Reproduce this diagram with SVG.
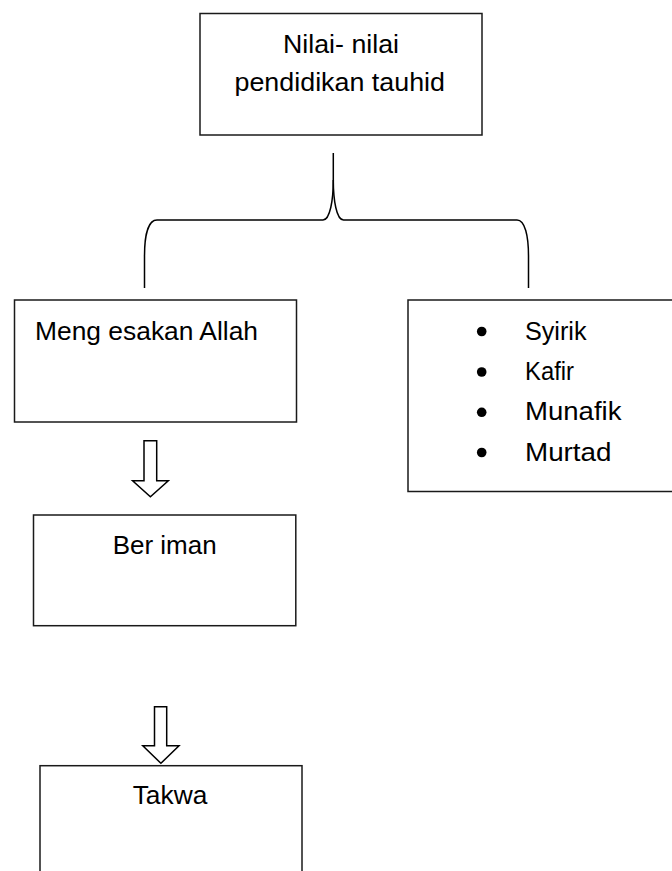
<svg xmlns="http://www.w3.org/2000/svg" width="672" height="871" viewBox="0 0 672 871">
<style>
.box{fill:#fff;stroke:#1a1a1a;stroke-width:1.5}
.ln{fill:none;stroke:#000;stroke-width:1.5}
.arr{fill:#fff;stroke:#000;stroke-width:1.5;stroke-linejoin:miter}
text{font-family:"Liberation Sans","Open Sans",Arial,sans-serif;font-size:26px;fill:#000}
.dot{fill:#000}
</style>
<rect width="672" height="871" fill="#fff"/>
<g id="connectors">
<path class="ln" d="M144.5,288 L144.5,256 C144.5,236 148,220 157,220 L323,220 C330,220 333.3,200 333.3,180 L333.3,153"/>
<path class="ln" d="M528.5,288 L528.5,256 C528.5,236 525,220 517,220 L343.5,220 C336.5,220 333.3,200 333.3,180"/>
<path class="arr" d="M144,440.7 L156.7,440.7 L156.7,480.7 L168.3,480.7 L150.4,496.7 L132.6,480.7 L144,480.7 Z"/>
<path class="arr" d="M154.5,706.7 L166.7,706.7 L166.7,745.7 L179,745.7 L160.9,763.3 L142.8,745.7 L154.5,745.7 Z"/>
</g>
<g id="node-tauhid">
<rect class="box" x="200" y="13.5" width="282" height="121.5"/>
<text x="283" y="53" textLength="116" lengthAdjust="spacingAndGlyphs">Nilai- nilai</text>
<text x="234.5" y="90.5" textLength="210.5" lengthAdjust="spacingAndGlyphs">pendidikan tauhid</text>
</g>
<g id="node-mengesakan">
<rect class="box" x="14.5" y="300" width="282" height="122"/>
<text x="35" y="339.5" textLength="223" lengthAdjust="spacingAndGlyphs">Meng esakan Allah</text>
</g>
<g id="node-list">
<rect class="box" x="408" y="300" width="270" height="191.5"/>
<circle class="dot" cx="481.7" cy="331.5" r="4.8"/>
<text x="525" y="339.5" textLength="61.5" lengthAdjust="spacingAndGlyphs">Syirik</text>
<circle class="dot" cx="481.7" cy="372" r="4.8"/>
<text x="525" y="380" textLength="49" lengthAdjust="spacingAndGlyphs">Kafir</text>
<circle class="dot" cx="481.7" cy="412.3" r="4.8"/>
<text x="525" y="420.3" textLength="96.5" lengthAdjust="spacingAndGlyphs">Munafik</text>
<circle class="dot" cx="481.7" cy="452.5" r="4.8"/>
<text x="525" y="460.5" textLength="86.5" lengthAdjust="spacingAndGlyphs">Murtad</text>
</g>
<g id="node-beriman">
<rect class="box" x="33.5" y="515" width="262.3" height="110.7"/>
<text x="112.7" y="553.5" textLength="104" lengthAdjust="spacingAndGlyphs">Ber iman</text>
</g>
<g id="node-takwa">
<rect class="box" x="40" y="765.7" width="262" height="120"/>
<text x="132.7" y="804.3" textLength="74.6" lengthAdjust="spacingAndGlyphs">Takwa</text>
</g>
</svg>
